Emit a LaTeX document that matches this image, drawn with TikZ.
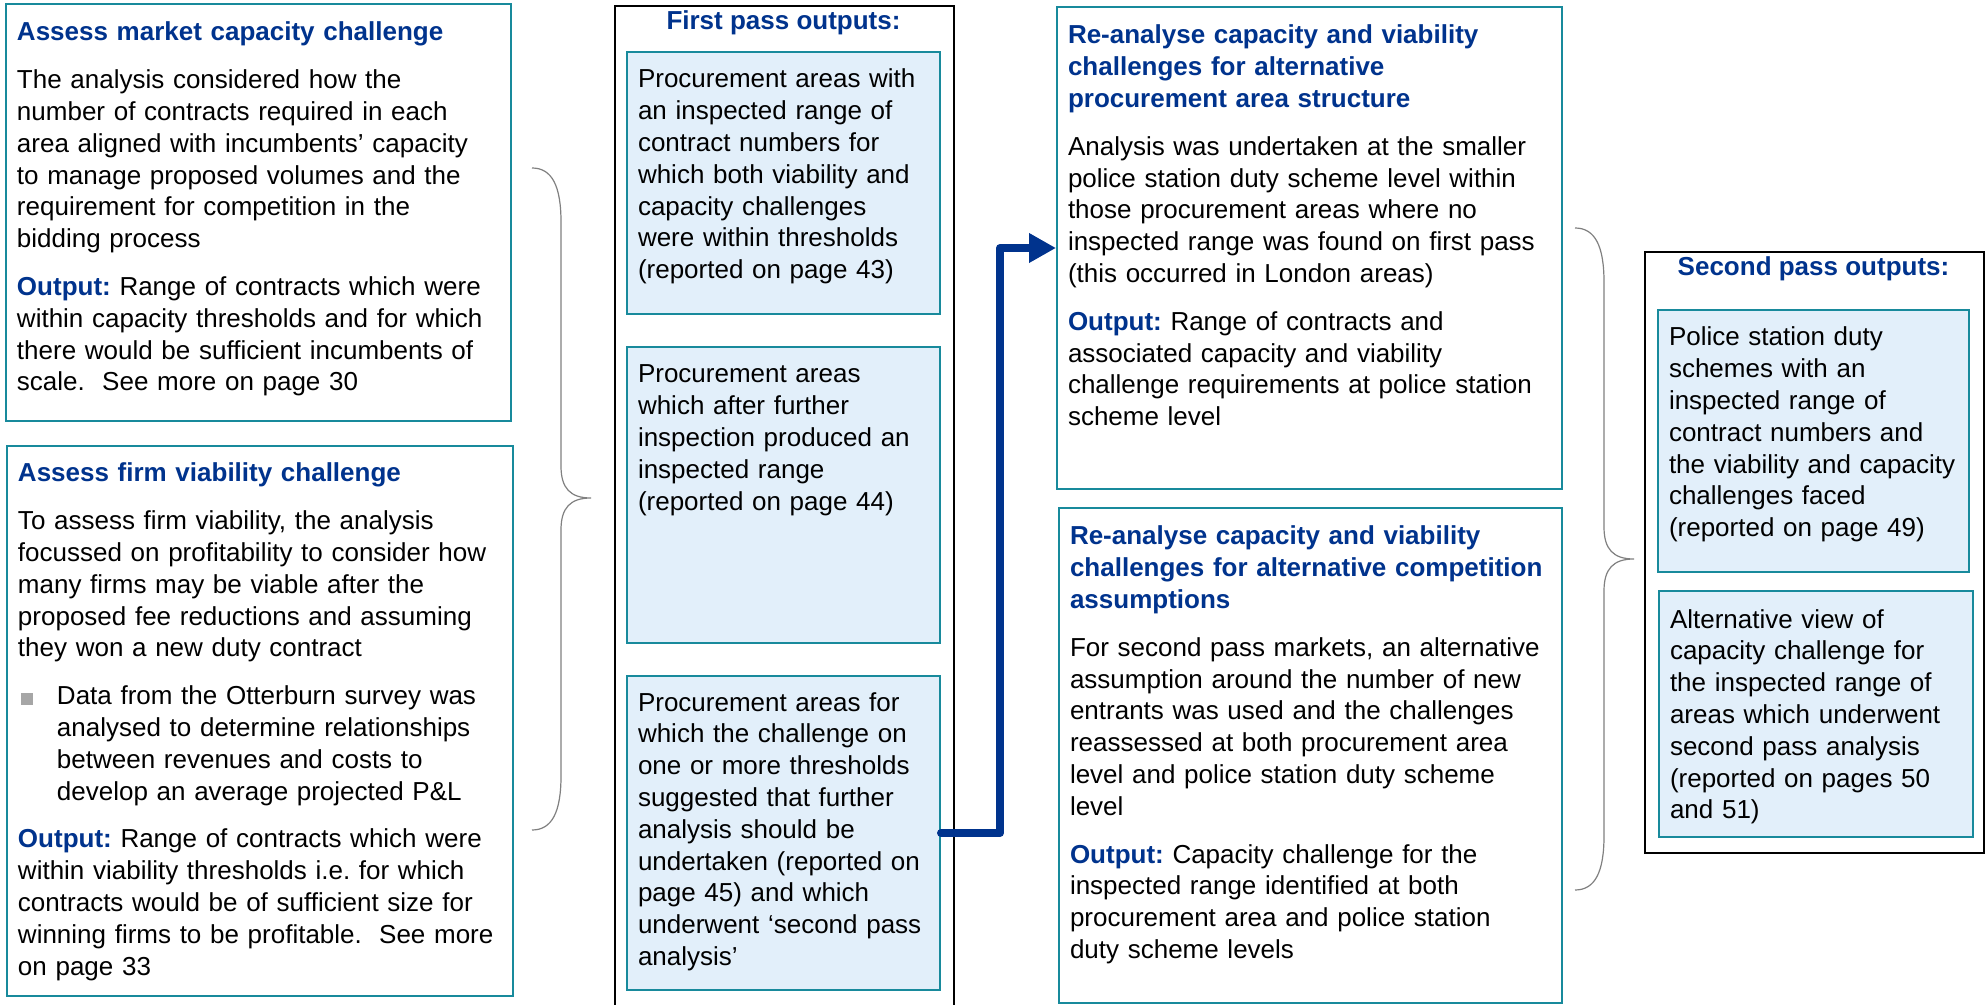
\documentclass[tikz,border=0pt]{standalone}
\usepackage{fontspec}
\setmainfont{Liberation Sans}[Ligatures=CommonOff]
\usetikzlibrary{arrows.meta}

\definecolor{hdblue}{RGB}{0,51,141}
\definecolor{panelline}{RGB}{24,138,156}
\definecolor{panelfill}{RGB}{226,239,250}
\definecolor{bracegrey}{RGB}{128,128,128}
\definecolor{bulletgrey}{RGB}{166,166,166}

\newcommand{\hdtext}[1]{\textcolor{hdblue}{\textbf{#1}}}
\newcommand{\sqitem}{\makebox[19.5pt][l]{\hspace{1.5pt}\textcolor{bulletgrey}{\rule{6pt}{6pt}}}}
\newcommand{\sqindent}{\hspace*{19.5pt}}

\begin{document}
\begin{tikzpicture}[
    x=0.5pt, y=-0.5pt,
    panel/.style={rectangle, draw=panelline, line width=1pt, anchor=north west, align=left, inner xsep=5.5pt, inner ysep=0pt, font=\fontsize{13pt}{15.9pt}\selectfont\frenchspacing},
    shaded/.style={panel, fill=panelfill},
    frame/.style={rectangle, draw=black, line width=1pt, anchor=north west, inner sep=0pt},
    hdr/.style={anchor=base, text=hdblue, font=\fontsize{13pt}{15.9pt}\selectfont\bfseries},
    brace/.style={draw=bracegrey, line width=0.6pt},
    flow/.style={-{Triangle[length=13.5pt, width=14pt]}, draw=hdblue, line width=4pt, line cap=round, line join=round}
]
\path[use as bounding box, fill=white] (0,0) rectangle (1987,1005);
\clip (0,0) rectangle (1987,1005);

    % the two assessment steps
    \node[panel, text width=241.5pt, text height=18.5pt, text depth=190pt] (mktcap) at (5,3) {%
        \hdtext{Assess market capacity challenge}\\[8pt]
        The analysis considered how the\\
        number of contracts required in each\\
        area aligned with incumbents’ capacity\\
        to manage proposed volumes and the\\
        requirement for competition in the\\
        bidding process\\[8pt]
        \hdtext{Output:} Range of contracts which were\\
        within capacity thresholds and for which\\
        there would be sufficient incumbents of\\
        scale.\ \ See more on page 30};

    \node[panel, text width=242pt, text height=18pt, text depth=257pt] (firmvia) at (6,445) {%
        \hdtext{Assess firm viability challenge}\\[8pt]
        To assess firm viability, the analysis\\
        focussed on profitability to consider how\\
        many firms may be viable after the\\
        proposed fee reductions and assuming\\
        they won a new duty contract\\[8pt]
        \sqitem Data from the Otterburn survey was\\
        \sqindent analysed to determine relationships\\
        \sqindent between revenues and costs to\\
        \sqindent develop an average projected P\&L\\[8pt]
        \hdtext{Output:} Range of contracts which were\\
        within viability thresholds i.e. for which\\
        contracts would be of sufficient size for\\
        winning firms to be profitable.\ \ See more\\
        on page 33};

    % first pass column
    \node[frame, minimum width=169.5pt, minimum height=505pt] (fpframe) at (614,5) {};
    \node[hdr] (fptitle) at (783.5,30) {First pass outputs:};

    \node[shaded, text width=145.5pt, text height=18pt, text depth=113pt] (fp1) at (626,51) {%
        Procurement areas with\\
        an inspected range of\\
        contract numbers for\\
        which both viability and\\
        capacity challenges\\
        were within thresholds\\
        (reported on page 43)};

    \node[shaded, text width=145.5pt, text height=18pt, text depth=130pt] (fp2) at (626,346) {%
        Procurement areas\\
        which after further\\
        inspection produced an\\
        inspected range\\
        (reported on page 44)};

    \node[shaded, text width=145.5pt, text height=17.5pt, text depth=139.5pt] (fp3) at (626,675) {%
        Procurement areas for\\
        which the challenge on\\
        one or more thresholds\\
        suggested that further\\
        analysis should be\\
        undertaken (reported on\\
        page 45) and which\\
        underwent ‘second pass\\
        analysis’};

    % re-analysis steps
    \node[panel, text width=241.5pt, text height=18.5pt, text depth=222.5pt] (reanA) at (1056,6) {%
        \hdtext{Re-analyse capacity and viability}\\
        \hdtext{challenges for alternative}\\
        \hdtext{procurement area structure}\\[8pt]
        Analysis was undertaken at the smaller\\
        police station duty scheme level within\\
        those procurement areas where no\\
        inspected range was found on first pass\\
        (this occurred in London areas)\\[8pt]
        \hdtext{Output:} Range of contracts and\\
        associated capacity and viability\\
        challenge requirements at police station\\
        scheme level};

    \node[panel, text width=240.5pt, text height=18.5pt, text depth=229pt] (reanB) at (1058,507) {%
        \hdtext{Re-analyse capacity and viability}\\
        \hdtext{challenges for alternative competition}\\
        \hdtext{assumptions}\\[8pt]
        For second pass markets, an alternative\\
        assumption around the number of new\\
        entrants was used and the challenges\\
        reassessed at both procurement area\\
        level and police station duty scheme\\
        level\\[8pt]
        \hdtext{Output:} Capacity challenge for the\\
        inspected range identified at both\\
        procurement area and police station\\
        duty scheme levels};

    % second pass column
    \node[frame, minimum width=169.5pt, minimum height=300.5pt] (spframe) at (1644,251) {};
    \node[hdr] (sptitle) at (1813.5,276) {Second pass outputs:};

    \node[shaded, text width=144.5pt, text height=18pt, text depth=113pt] (sp1) at (1657,309) {%
        Police station duty\\
        schemes with an\\
        inspected range of\\
        contract numbers and\\
        the viability and capacity\\
        challenges faced\\
        (reported on page 49)};

    \node[shaded, text width=146pt, text height=18.5pt, text depth=104.5pt] (sp2) at (1658,590) {%
        Alternative view of\\
        capacity challenge for\\
        the inspected range of\\
        areas which underwent\\
        second pass analysis\\
        (reported on pages 50\\
        and 51)};

    % braces
    \draw[brace] (532,168) .. controls (552,168) and (561,186) .. (561,222) -- (561,466)
        .. controls (561,488) and (570,498) .. (591,498)
        .. controls (570,498) and (561,508) .. (561,530) -- (561,776)
        .. controls (561,812) and (552,830) .. (532,830);
    \draw[brace] (1575,228) .. controls (1595,228) and (1604,246) .. (1604,282) -- (1604,527)
        .. controls (1604,549) and (1613,559) .. (1634,559)
        .. controls (1613,559) and (1604,569) .. (1604,591) -- (1604,836)
        .. controls (1604,872) and (1595,890) .. (1575,890);

    % second pass route
    \draw[flow] (fp3.east) -- ++(59,0) |- (reanA.west);

\end{tikzpicture}
\end{document}
